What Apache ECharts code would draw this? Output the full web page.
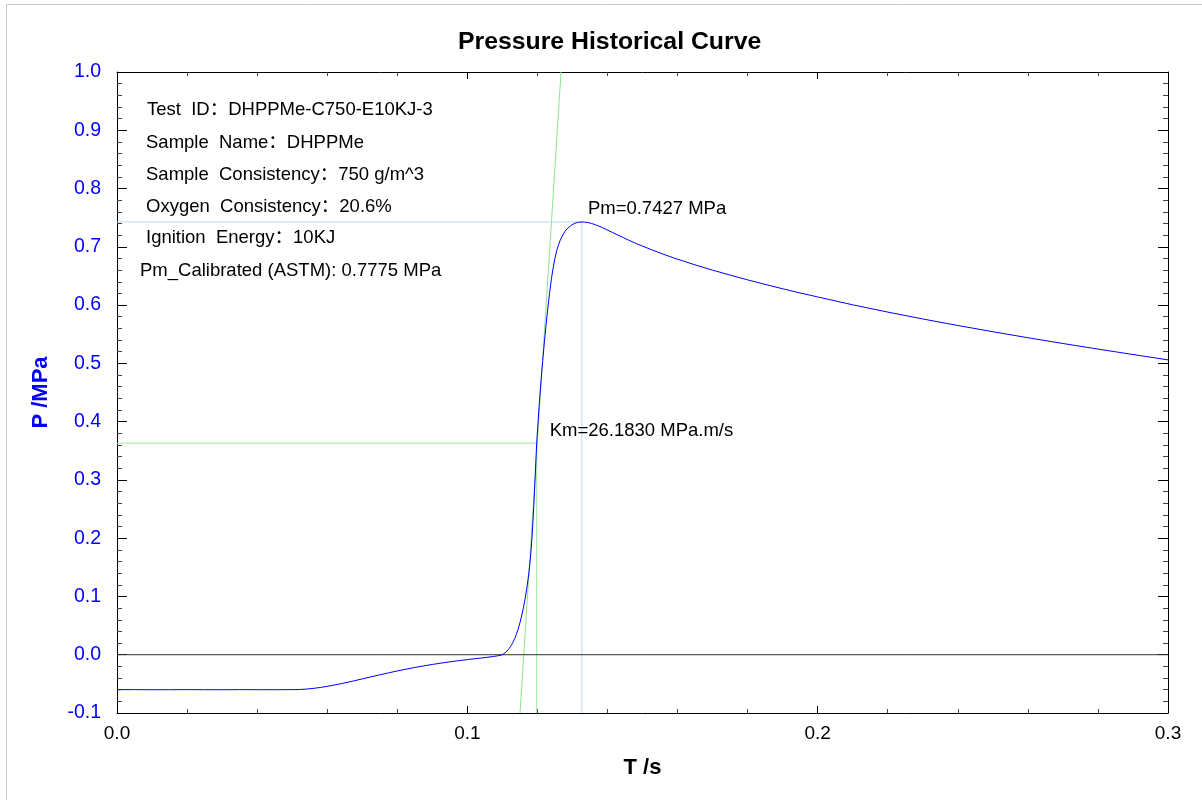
<!DOCTYPE html>
<html>
<head>
<meta charset="utf-8">
<script src="https://cdn.jsdelivr.net/npm/echarts@6/dist/echarts.min.js"></script>
<style>
html,body{margin:0;padding:0;background:#fff;}
#chart{width:1202px;height:800px;}
</style>
</head>
<body>
<div id="chart"></div>
<script>
// ---- data ----
const timeS = [0, 0.005, 0.010, 0.015, 0.020, 0.025, 0.030, 0.035, 0.040, 0.045, 0.050, 0.052,
  0.054, 0.056, 0.058, 0.060, 0.0625, 0.065, 0.0675, 0.070, 0.0725, 0.075, 0.0775, 0.080, 0.0825, 0.085,
  0.0875, 0.090, 0.0925, 0.095, 0.0975, 0.100, 0.1025, 0.105, 0.1075, 0.109,
  0.1100, 0.1105, 0.1110, 0.1115, 0.1120, 0.1125, 0.1130, 0.1135, 0.1140, 0.1145, 0.1150, 0.1155,
  0.1160, 0.1165, 0.1170, 0.1175, 0.1180, 0.1185, 0.1190, 0.1198,
  0.1205, 0.1210, 0.1215, 0.1220, 0.1225, 0.1230, 0.1235, 0.1240, 0.1245, 0.1250, 0.1255, 0.1260,
  0.1265, 0.1270, 0.1275, 0.1280, 0.1285, 0.1290, 0.1297, 0.1305, 0.1312, 0.1318, 0.1327,
  0.1335, 0.1345, 0.1355, 0.1365, 0.1375, 0.1385, 0.140, 0.1415, 0.143, 0.1445, 0.146, 0.148, 0.150,
  0.1525, 0.155, 0.1575, 0.160, 0.165, 0.170, 0.175, 0.180,
  0.185, 0.190, 0.195, 0.200, 0.210, 0.220, 0.230, 0.240, 0.250, 0.260, 0.270, 0.280, 0.290, 0.300];
const pressureMPa = [-0.0600, -0.0599, -0.0601, -0.0600, -0.0599, -0.0600, -0.0601, -0.0599, -0.0600, -0.0600, -0.0599, -0.0597,
  -0.0590, -0.0578, -0.0562, -0.0543, -0.0515, -0.0484, -0.0450, -0.0415, -0.0380, -0.0345, -0.0311, -0.0279, -0.0248, -0.0219,
  -0.0192, -0.0167, -0.0144, -0.0122, -0.0102, -0.0084, -0.0066, -0.0049, -0.0030, -0.0015,
  0.0000, 0.0018, 0.0042, 0.0072, 0.0110, 0.0155, 0.0210, 0.0275, 0.0350, 0.0440, 0.0545, 0.0665,
  0.0805, 0.0965, 0.1150, 0.1370, 0.1650, 0.2050, 0.2580, 0.3630,
  0.4280, 0.4680, 0.5030, 0.5370, 0.5680, 0.5960, 0.6220, 0.6450, 0.6640, 0.6800, 0.6930, 0.7030,
  0.7110, 0.7175, 0.7230, 0.7275, 0.7310, 0.7340, 0.7372, 0.7398, 0.7414, 0.7422, 0.7427,
  0.7424, 0.7415, 0.7400, 0.7380, 0.7357, 0.7331, 0.7288, 0.7244, 0.7201, 0.7159, 0.7115, 0.7062, 0.7012,
  0.6952, 0.6894, 0.6840, 0.6788, 0.6690, 0.6600, 0.6515, 0.6433,
  0.6355, 0.6280, 0.6208, 0.6140, 0.6005, 0.5880, 0.5762, 0.5650, 0.5543, 0.5440, 0.5341, 0.5245, 0.5152, 0.5060];

const peakT = 0.1327, peakP = 0.7427;
const kmT = 0.1198, kmP = 0.363;
const tangentT = [0.11504, 0.12675];
const tangentP = [-0.1, 1.0];

const xTicks = [0.0, 0.1, 0.2, 0.3];
const yMin = -0.1, yMax = 1.0;

const infoLines = [
  'Test  ID：DHPPMe-C750-E10KJ-3',
  'Sample  Name：DHPPMe',
  'Sample  Consistency：750 g/m^3',
  'Oxygen  Consistency：20.6%',
  'Ignition  Energy：10KJ',
  'Pm_Calibrated (ASTM): 0.7775 MPa'
];
const pmLabel = 'Pm=0.7427 MPa';
const kmLabel = 'Km=26.1830 MPa.m/s';
const titleText = 'Pressure Historical Curve';

// ---- chart ----
const FONT = '"Liberation Sans", Arial, "Noto Sans CJK SC", sans-serif';
const chart = echarts.init(document.getElementById('chart'), null, {renderer: 'canvas'});

const curve = timeS.map((t, i) => [t, pressureMPa[i]]);
const tangent = tangentT.map((t, i) => [t, tangentP[i]]);
const pmGuide = [[0, peakP], [peakT, peakP], [peakT, yMin]];
const kmGuide = [[0, kmP], [kmT, kmP], [kmT, yMin]];
const zeroLine = [[xTicks[0], 0], [xTicks[xTicks.length - 1], 0]];

const gridL = 117, gridT = 72, gridR = 34, gridB = 87;

const axisCommonX = {
  type: 'value', min: 0, max: 0.3, interval: 0.1,
  axisLine: {show: true, onZero: false, lineStyle: {color: '#000', width: 1}},
  axisTick: {show: true, inside: true, length: 7, lineStyle: {color: '#000'}},
  minorTick: {show: true, splitNumber: 5, length: 4, lineStyle: {color: '#444'}},
  splitLine: {show: false}, minorSplitLine: {show: false}
};
const axisCommonY = {
  type: 'value', min: yMin, max: yMax, interval: 0.1,
  axisLine: {show: true, onZero: false, lineStyle: {color: '#000', width: 1}},
  axisTick: {show: true, inside: true, length: 10, lineStyle: {color: '#000'}},
  minorTick: {show: true, splitNumber: 5, length: 5, lineStyle: {color: '#444'}},
  splitLine: {show: false}, minorSplitLine: {show: false}
};

const graphics = [
  {type: 'line', silent: true, shape: {x1: 6.5, y1: 4.5, x2: 6.5, y2: 800}, style: {stroke: '#c8c8c8', lineWidth: 1}},
  {type: 'line', silent: true, shape: {x1: 6.5, y1: 4.5, x2: 1202, y2: 4.5}, style: {stroke: '#c8c8c8', lineWidth: 1}},
  {type: 'text', silent: true, x: 458, y: 42, style: {text: titleText, font: 'bold 24.8px ' + FONT, fill: '#000', verticalAlign: 'middle'}}
];
const infoX = [147, 146, 146, 146, 146, 140];
const infoY = [110, 142.7, 175, 206.7, 238.3, 270.7];
infoLines.forEach((s, i) => {
  graphics.push({type: 'text', silent: true, x: infoX[i], y: infoY[i],
    style: {text: s, font: '18.5px ' + FONT, fill: '#000', verticalAlign: 'middle', align: 'left'}});
});

const option = {
  animation: false,
  backgroundColor: '#fff',
  grid: {left: gridL, top: gridT, right: gridR, bottom: gridB, containLabel: false},
  xAxis: [
    Object.assign({}, axisCommonX, {
      position: 'bottom', name: 'T /s', nameLocation: 'middle', nameGap: 44,
      nameTextStyle: {fontFamily: FONT, fontWeight: 'bold', fontSize: 22, color: '#000'},
      axisLabel: {show: true, margin: 11, color: '#000', fontFamily: FONT, fontSize: 19,
        showMinLabel: true, showMaxLabel: true, formatter: v => v.toFixed(1)}
    }),
    Object.assign({}, axisCommonX, {position: 'top', axisLabel: {show: false}})
  ],
  yAxis: [
    Object.assign({}, axisCommonY, {
      position: 'left', name: 'P /MPa', nameLocation: 'middle', nameGap: 65,
      nameTextStyle: {fontFamily: FONT, fontWeight: 'bold', fontSize: 22, color: '#0000ff'},
      axisLabel: {show: true, margin: 16, color: '#0000ff', fontFamily: FONT, fontSize: 19.5,
        showMinLabel: true, showMaxLabel: true, formatter: v => v.toFixed(1)}
    }),
    Object.assign({}, axisCommonY, {position: 'right', axisLabel: {show: false}})
  ],
  graphic: graphics,
  series: [
    {type: 'line', name: 'tangent', data: tangent, symbol: 'none', silent: true,
      lineStyle: {color: '#8fe28f', width: 1}, z: 2},
    {type: 'line', name: 'kmGuide', data: kmGuide, symbol: 'none', silent: true,
      lineStyle: {color: '#9ee69e', width: 1}, z: 2},
    {type: 'line', name: 'pmGuide', data: pmGuide, symbol: 'none', silent: true,
      lineStyle: {color: '#b5dfea', width: 1}, z: 2},
    {type: 'line', name: 'zero', data: zeroLine, symbol: 'none', silent: true,
      lineStyle: {color: '#333', width: 1}, z: 3},
    {type: 'line', name: 'P', data: curve, symbol: 'none', silent: true, smooth: false,
      lineStyle: {color: '#0000ff', width: 1}, z: 4,
      markPoint: {
        symbol: 'circle', symbolSize: 0, silent: true,
        data: [
          {coord: [peakT, peakP], label: {show: true, formatter: pmLabel, position: 'right', distance: 0,
            offset: [6, -13], color: '#000', fontFamily: FONT, fontSize: 18.5}},
          {coord: [kmT, kmP], label: {show: true, formatter: kmLabel, position: 'right', distance: 0,
            offset: [13, -12], color: '#000', fontFamily: FONT, fontSize: 18.5}}
        ]
      }}
  ]
};
chart.setOption(option);
</script>
</body>
</html>
